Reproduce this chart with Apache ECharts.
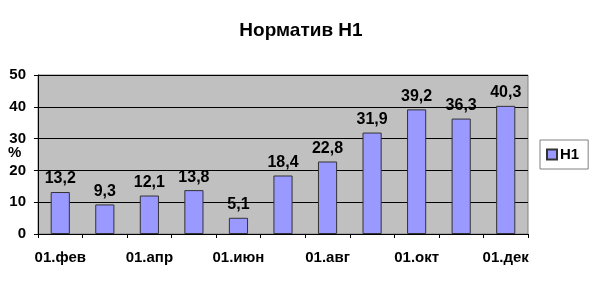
<!DOCTYPE html>
<html><head><meta charset="utf-8">
<script src="https://cdn.jsdelivr.net/npm/echarts@6/dist/echarts.min.js"></script>
<style>html,body{margin:0;padding:0;background:#fff}#c{width:595px;height:288px}</style>
</head><body><div id="c"></div>
<script>
const categories = ['01.фев','01.мар','01.апр','01.май','01.июн','01.июл','01.авг','01.сен','01.окт','01.ноя','01.дек'];
const valuesH1 = [13.2, 9.3, 12.1, 13.8, 5.1, 18.4, 22.8, 31.9, 39.2, 36.3, 40.3];
const seriesName = 'Н1';
const titleText = 'Норматив Н1';
const yAxisName = '%';
const yTicks = {min: 0, max: 50, interval: 10};

const FONT = 'Liberation Sans, Arial, sans-serif';
const chart = echarts.init(document.getElementById('c'), null, {renderer: 'canvas'});
chart.setOption({
  animation: false,
  backgroundColor: '#fff',
  title: {text: titleText, left: 296, textAlign: 'center', top: 16,
    textStyle: {fontFamily: FONT, fontWeight: 'bold', fontSize: 19, color: '#000'}},
  graphic: [{type: 'text', left: 8, top: 145,
    style: {text: yAxisName, fontFamily: FONT, fontWeight: 'bold', fontSize: 15, fill: '#000'}}],
  grid: {left: 38, right: 67, top: 75, bottom: 54, containLabel: false, outerBoundsMode: 'none',
    show: true, backgroundColor: '#C0C0C0', borderColor: '#808080', borderWidth: 1},
  legend: {data: [seriesName], left: 540, top: 140, orient: 'vertical', icon: 'rect', itemWidth: 10, itemHeight: 10, itemGap: 4,
    padding: [7, 9, 7, 6], borderColor: '#808080', borderWidth: 1, backgroundColor: '#fff',
    textStyle: {fontFamily: FONT, fontWeight: 'bold', fontSize: 15, color: '#000', padding: [0, 0, 0, -2]}},
  xAxis: {type: 'category', data: categories,
    axisLine: {show: true, lineStyle: {color: '#000', width: 1}},
    axisTick: {show: true, alignWithLabel: false, interval: 0, length: 4, lineStyle: {color: '#000'}},
    axisLabel: {interval: 1, margin: 16, fontFamily: FONT, fontWeight: 'bold', fontSize: 15, color: '#000'}},
  yAxis: {type: 'value', min: yTicks.min, max: yTicks.max, interval: yTicks.interval,
    axisLine: {show: true, lineStyle: {color: '#000', width: 1}},
    axisTick: {show: true, length: 4, lineStyle: {color: '#000'}},
    splitLine: {show: true, lineStyle: {color: '#000', width: 1}},
    axisLabel: {margin: 12, fontFamily: FONT, fontWeight: 'bold', fontSize: 15, color: '#000'}},
  series: [{name: seriesName, type: 'bar', data: valuesH1, barWidth: '43%',
    itemStyle: {color: '#9999FF', borderColor: '#333333', borderWidth: 1},
    label: {show: true, position: 'top', distance: 5, fontFamily: FONT, fontWeight: 'bold', fontSize: 16, color: '#000',
      formatter: p => String(p.value).replace('.', ',')}}]
});
</script></body></html>
